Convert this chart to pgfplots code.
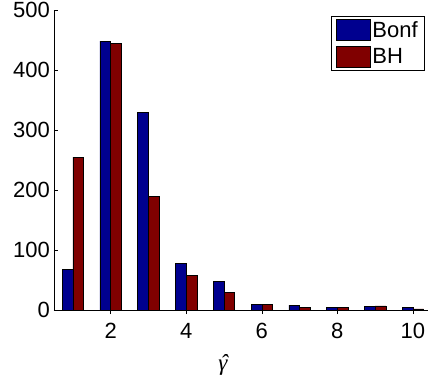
\documentclass[border=0pt]{standalone}
\usepackage{pgfplots}
\pgfplotsset{compat=1.18}
\usepackage{fontspec}
\setmainfont{Liberation Sans}
\newfontfamily\gfont{Liberation Serif}
\definecolor{bonf}{rgb}{0,0,0.5625}
\definecolor{bh}{rgb}{0.5,0,0}
\begin{document}
\begin{tikzpicture}
\path[use as bounding box] (-54pt,-71pt) rectangle (374pt,310pt);
\begin{axis}[
  scale only axis,
  width=374pt, height=300pt,
  xmin=0.5, xmax=10.4,
  ymin=0, ymax=500,
  axis x line*=bottom, axis y line*=left,
  axis line style={black, line width=0.5pt},
  tick align=inside,
  major tick length=4pt,
  tick style={black, line width=0.5pt},
  xtick={2,4,6,8,10},
  ytick={0,100,200,300,400,500},
  /pgf/number format/assume math mode=true,
  tick label style={font=\fontsize{22}{26}\selectfont, inner sep=0pt},
  yticklabel style={xshift=-4pt},
  xticklabel style={yshift=-9pt},
  xlabel={\ooalign{γ\cr\hidewidth\kern0.12em ˆ\hidewidth\cr}},
  xlabel style={font=\gfont\itshape\fontsize{23}{26}\selectfont, inner sep=0pt,
    at={(axis cs:4.97,0)}, anchor=north, yshift=-50pt},
  ybar=0pt,
  bar width=10.7pt,
  legend style={
    at={(rel axis cs:1,1)}, anchor=north east, xshift=-3pt, yshift=-6pt,
    draw=black, fill=white, line width=0.6pt,
    font=\fontsize{22}{26}\selectfont,
    inner xsep=5pt, inner ysep=3pt,
    row sep=5pt,
    /tikz/every even column/.append style={column sep=4pt},
  },
  legend cell align=left,
  legend image code/.code={\draw[#1, line width=0.5pt] (0pt,-10.5pt) rectangle (34pt,10.5pt);},
]
\addplot[draw=black, fill=bonf, line width=0.5pt] coordinates {
(1,68) (2,448) (3,330) (4,78) (5,48) (6,9) (7,8) (8,5) (9,6) (10,5)};
\addplot[draw=black, fill=bh, line width=0.5pt] coordinates {
(1,255) (2,445) (3,189) (4,58) (5,29) (6,10) (7,4) (8,5) (9,7) (10,2)};
\legend{Bonf,BH}
\end{axis}
\end{tikzpicture}
\end{document}
